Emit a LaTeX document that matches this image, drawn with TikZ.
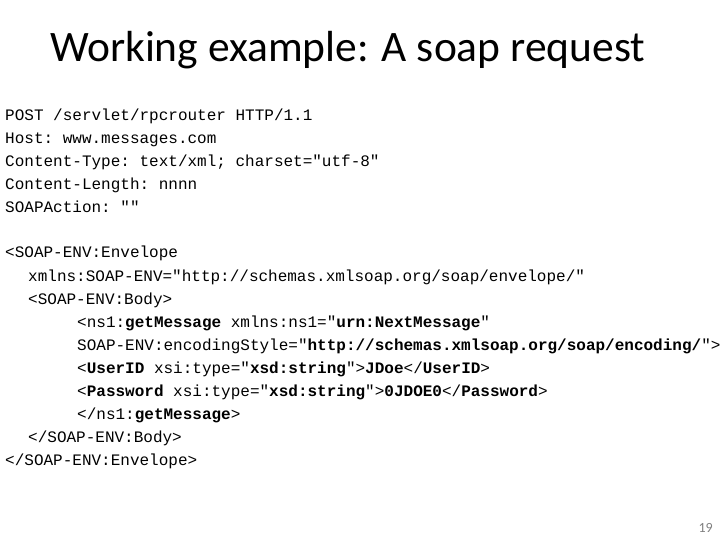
\documentclass[tikz,border=0pt]{standalone}
\usepackage{fontspec}
\setmainfont{Carlito}
\setmonofont{Liberation Mono}
\begin{document}
\begin{tikzpicture}[x=1pt,y=-1pt,
  code/.style={anchor=base west,inner sep=0pt,font=\fontsize{16}{18}\ttfamily}]
\useasboundingbox (0,0) rectangle (720,540);
\node[anchor=base west,inner sep=0pt,font=\fontsize{43.5}{48}\selectfont] (title) at (50,62) {Working example: A soap request};
\node[code] (l1) at (5,121) {POST /servlet/rpcrouter HTTP/1.1};
\node[code] (l2) at (5,144) {Host: www.messages.com};
\node[code] (l3) at (5,167) {Content-Type: text/xml; charset="utf-8"};
\node[code] (l4) at (5,190) {Content-Length: nnnn};
\node[code] (l5) at (5,213) {SOAPAction: ""};
\node[code] (m1) at (5,258) {<SOAP-ENV:Envelope};
\node[code] (m2) at (28,281) {xmlns:SOAP-ENV="http://schemas.xmlsoap.org/soap/envelope/"};
\node[code] (m3) at (28,304) {<SOAP-ENV:Body>};
\node[code] (m4) at (77,327) {<ns1:\textbf{getMessage} xmlns:ns1="\textbf{urn:NextMessage}"};
\node[code] (m5) at (77,350) {SOAP-ENV:encodingStyle="\textbf{http://schemas.xmlsoap.org/soap/encoding/}">};
\node[code] (m6) at (77,373) {<\textbf{UserID} xsi:type="\textbf{xsd:string}">\textbf{JDoe}</\textbf{UserID}>};
\node[code] (m7) at (77,396) {<\textbf{Password} xsi:type="\textbf{xsd:string}">\textbf{0JDOE0}</\textbf{Password}>};
\node[code] (m8) at (77,419) {</ns1:\textbf{getMessage}>};
\node[code] (m9) at (28,442) {</SOAP-ENV:Body>};
\node[code] (m10) at (5,465) {</SOAP-ENV:Envelope>};
\node[anchor=base east,inner sep=0pt,text=gray,font=\fontsize{14}{16}\selectfont] (pg) at (713,532) {19};
\end{tikzpicture}
\end{document}
